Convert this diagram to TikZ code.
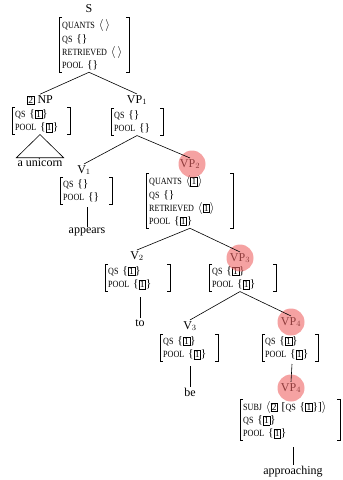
\documentclass[tikz,border=0pt]{standalone}
\usepackage{fontspec}
\setmainfont{Liberation Serif}
\newfontfamily\scfont[FakeStretch=0.85]{Liberation Serif}
\setlength{\fboxsep}{0.8pt}
\setlength{\fboxrule}{0.5pt}
\newcommand\ft[1]{{\scfont\fontsize{9.5}{13.2}\selectfont #1}}
\newcommand\tg[1]{\fbox{\fontsize{9.5}{10}\selectfont #1}}
\newcommand\brk[1]{%
  \draw[brkline] ([xshift=3pt]#1.north west) -| (#1.south west) -- ++(3pt,0);
  \draw[brkline] ([xshift=-3pt]#1.north east) -| (#1.south east) -- ++(-3pt,0);}
\definecolor{hl}{RGB}{238,100,100}
\tikzset{
  lab/.style={font=\fontsize{12}{13}\selectfont, inner sep=1pt},
  word/.style={font=\fontsize{12}{13}\selectfont, inner sep=1pt},
  avm/.style={align=left, anchor=west, inner xsep=3pt, inner ysep=2pt,
    text width=#1, font=\fontsize{11.5}{13.2}\selectfont},
  brkline/.style={line width=0.6pt},
  edge/.style={line width=0.6pt},
  hlc/.style={circle, fill=hl, fill opacity=0.6, draw=none, minimum size=27pt, inner sep=0pt}
}
\begin{document}
\begin{tikzpicture}[x=1pt,y=-1pt]
\useasboundingbox (0,0) rectangle (343,480);
% S
\node[lab] (Sl) at (89,9) {S};
\node[avm=64pt] (Sa) at (59,45) {\ft{QUANTS} $\langle\,\rangle$\\\ft{QS} \{\}\\\ft{RETRIEVED} $\langle\,\rangle$\\\ft{POOL} \{\}};
\brk{Sa}
\coordinate (Sb) at (Sl |- Sa.south);
% NP
\node[lab] (NPl) at (40,100) {\tg{2} NP};
\node[avm=52pt] (NPa) at (12,121) {\ft{QS} \{\tg{1}\}\\\ft{POOL} \{\tg{1}\}};
\brk{NPa}
\coordinate (NPb) at (NPl |- NPa.south);
\node[word] (uni) at (40,163) {a unicorn};
% VP1
\node[lab] (VP1l) at (137,100) {VP$_1$};
\node[avm=46pt] (VP1a) at (111,122) {\ft{QS} \{\}\\\ft{POOL} \{\}};
\brk{VP1a}
\coordinate (VP1b) at (VP1l |- VP1a.south);
% V1
\node[lab] (V1l) at (84,170) {V$_1$};
\node[avm=46pt] (V1a) at (60,191) {\ft{QS} \{\}\\\ft{POOL} \{\}};
\brk{V1a}
\coordinate (V1b) at (87,207);
\node[word] (appears) at (87,232) {appears};
% VP2
\node[lab] (VP2l) at (190,164) {VP$_2$};
\node[avm=81pt] (VP2a) at (146,201) {\ft{QUANTS} $\langle$\tg{1}$\rangle$\\\ft{QS} \{\}\\\ft{RETRIEVED} $\langle$\tg{1}$\rangle$\\\ft{POOL} \{\tg{1}\}};
\brk{VP2a}
\coordinate (VP2b) at (VP2l |- VP2a.south);
% V2
\node[lab] (V2l) at (137,256) {V$_2$};
\node[avm=59pt] (V2a) at (105,278) {\ft{QS} \{\tg{1}\}\\\ft{POOL} \{\tg{1}\}};
\brk{V2a}
\coordinate (V2b) at (140,297);
\node[word] (to) at (140,323) {to};
% VP3
\node[lab] (VP3l) at (240,258) {VP$_3$};
\node[avm=61pt] (VP3a) at (209,278) {\ft{QS} \{\tg{1}\}\\\ft{POOL} \{\tg{1}\}};
\brk{VP3a}
\coordinate (VP3b) at (VP3l |- VP3a.south);
% V3
\node[lab] (V3l) at (190,326) {V$_3$};
\node[avm=52pt] (V3a) at (160,348) {\ft{QS} \{\tg{1}\}\\\ft{POOL} \{\tg{1}\}};
\brk{V3a}
\coordinate (V3b) at (190,366);
\node[word] (be) at (190,392) {be};
% VP4 upper
\node[lab] (VP4l) at (291,322) {VP$_4$};
\node[avm=50pt] (VP4a) at (262,348) {\ft{QS} \{\tg{1}\}\\\ft{POOL} \{\tg{1}\}};
\brk{VP4a}
\coordinate (VP4b) at (292,364);
% VP4 lower
\node[lab] (VP5l) at (291,388) {VP$_4$};
\node[avm=94pt] (VP5a) at (240,420) {\ft{SUBJ} $\langle$\tg{2} [\ft{QS} \{\tg{1}\}]$\rangle$\\\ft{QS} \{\tg{1}\}\\\ft{POOL} \{\tg{1}\}};
\brk{VP5a}
\coordinate (VP5b) at (293,447);
\node[word] (appr) at (293,472) {approaching};
% highlights
\node[hlc] (h2) at ([xshift=2pt]VP2l) {};
\node[hlc] (h3) at (VP3l) {};
\node[hlc] (h4) at (VP4l) {};
\node[hlc] (h5) at (VP5l) {};
% edges
\draw[edge] (Sb) -- (NPl.north);
\draw[edge] (Sb) -- (VP1l.north);
\draw[edge] (NPb) -- (uni.north west) -- (uni.north east) -- cycle;
\draw[edge] (VP1b) -- (V1l.north);
\draw[edge] (VP1b) -- (VP2l.north);
\draw[edge] (V1b) -- (appears.north);
\draw[edge] (VP2b) -- (V2l.north);
\draw[edge] (VP2b) -- (VP3l.north);
\draw[edge] (V2b) -- (to.north);
\draw[edge] (VP3b) -- (V3l.north);
\draw[edge] (VP3b) -- (VP4l.north);
\draw[edge] (V3b) -- (be.north);
\draw[edge] (VP4b) -- (VP5l.north);
\draw[edge] (VP5b) -- (appr.north);
\end{tikzpicture}
\end{document}
